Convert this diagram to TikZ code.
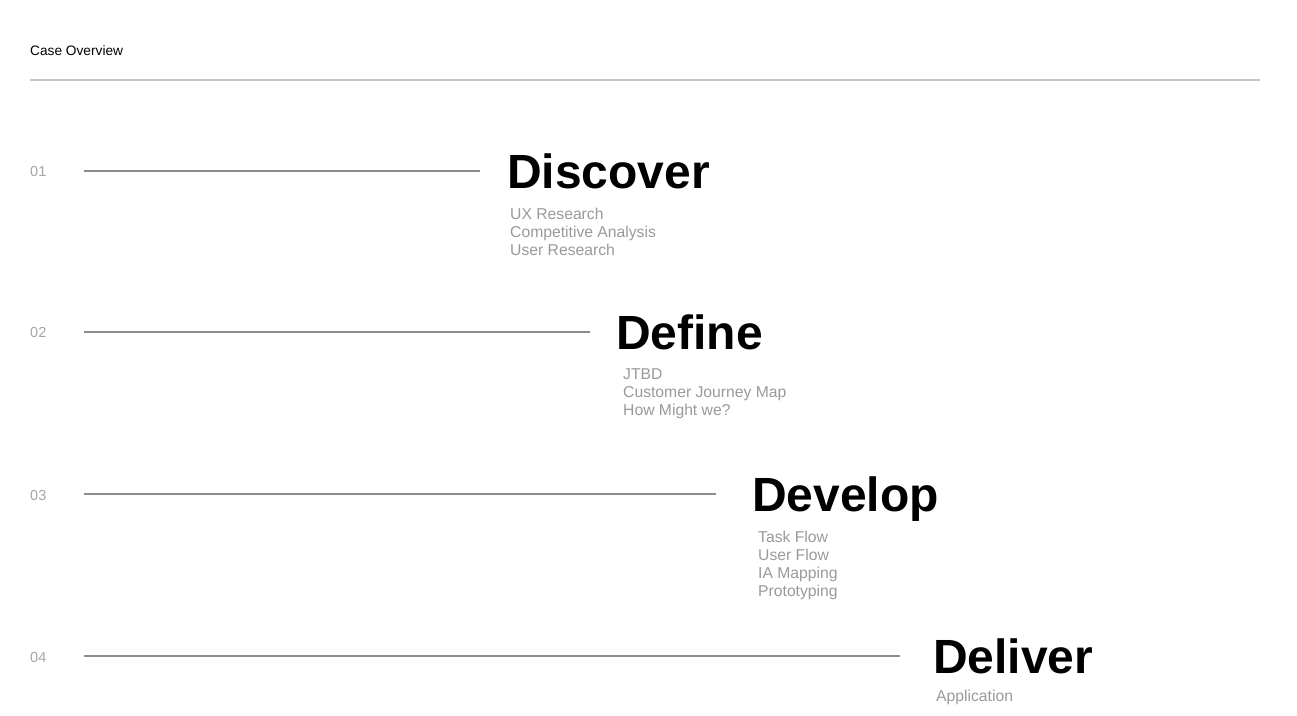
\documentclass[tikz,border=0pt]{standalone}
\usepackage{fontspec}
\setmainfont{Liberation Sans}
\definecolor{hdrline}{HTML}{C4C4C8}
\definecolor{rowline}{HTML}{8C8C8C}
\definecolor{numgray}{HTML}{A6A6A6}
\definecolor{subgray}{HTML}{9A9A9A}
\tikzset{
  title/.style={inner sep=0pt, anchor=base west, font=\fontsize{13.7}{13.7}\selectfont, text=black},
  numlbl/.style={inner sep=0pt, anchor=west, font=\fontsize{14.5}{14.5}\selectfont, text=numgray},
  phase/.style={inner sep=0pt, anchor=base west, font=\fontsize{48}{48}\selectfont\bfseries, text=black},
  item/.style={inner sep=0pt, anchor=base west, font=\fontsize{15.7}{15.7}\selectfont, text=subgray},
  rule/.style={draw=rowline, line width=1.3pt},
  toprule/.style={draw=hdrline, line width=2pt}
}
\begin{document}
\begin{tikzpicture}[x=1pt,y=-1pt]
\useasboundingbox[fill=white] (0,0) rectangle (1297,715);
% header
\node[title] (title) at (30,55) {Case Overview};
\coordinate (hl) at (30,80);
\coordinate (hr) at (1260,80);
\draw[toprule] (hl) -- (hr);
% row 1
\node[numlbl] (n1) at (30,172) {01};
\coordinate (s1) at (84,171);
\coordinate (e1) at (480,171);
\draw[rule] (s1) -- (e1);
\node[phase] (p1) at (507,188) {Discover};
\node[item] (p1a) at (510,219) {UX Research};
\node[item] (p1b) at (510,237) {Competitive Analysis};
\node[item] (p1c) at (510,255) {User Research};
% row 2
\node[numlbl] (n2) at (30,333) {02};
\coordinate (s2) at (84,332);
\coordinate (e2) at (590,332);
\draw[rule] (s2) -- (e2);
\node[phase] (p2) at (616,349) {Define};
\node[item] (p2a) at (623,379) {JTBD};
\node[item] (p2b) at (623,397) {Customer Journey Map};
\node[item] (p2c) at (623,415) {How Might we?};
% row 3
\node[numlbl] (n3) at (30,495) {03};
\coordinate (s3) at (84,494);
\coordinate (e3) at (716,494);
\draw[rule] (s3) -- (e3);
\node[phase] (p3) at (752,511) {Develop};
\node[item] (p3a) at (758,542) {Task Flow};
\node[item] (p3b) at (758,560) {User Flow};
\node[item] (p3c) at (758,578) {IA Mapping};
\node[item] (p3d) at (758,596) {Prototyping};
% row 4
\node[numlbl] (n4) at (30,657) {04};
\coordinate (s4) at (84,656);
\coordinate (e4) at (900,656);
\draw[rule] (s4) -- (e4);
\node[phase] (p4) at (933,673) {Deliver};
\node[item] (p4a) at (936,701) {Application};
\end{tikzpicture}
\end{document}
